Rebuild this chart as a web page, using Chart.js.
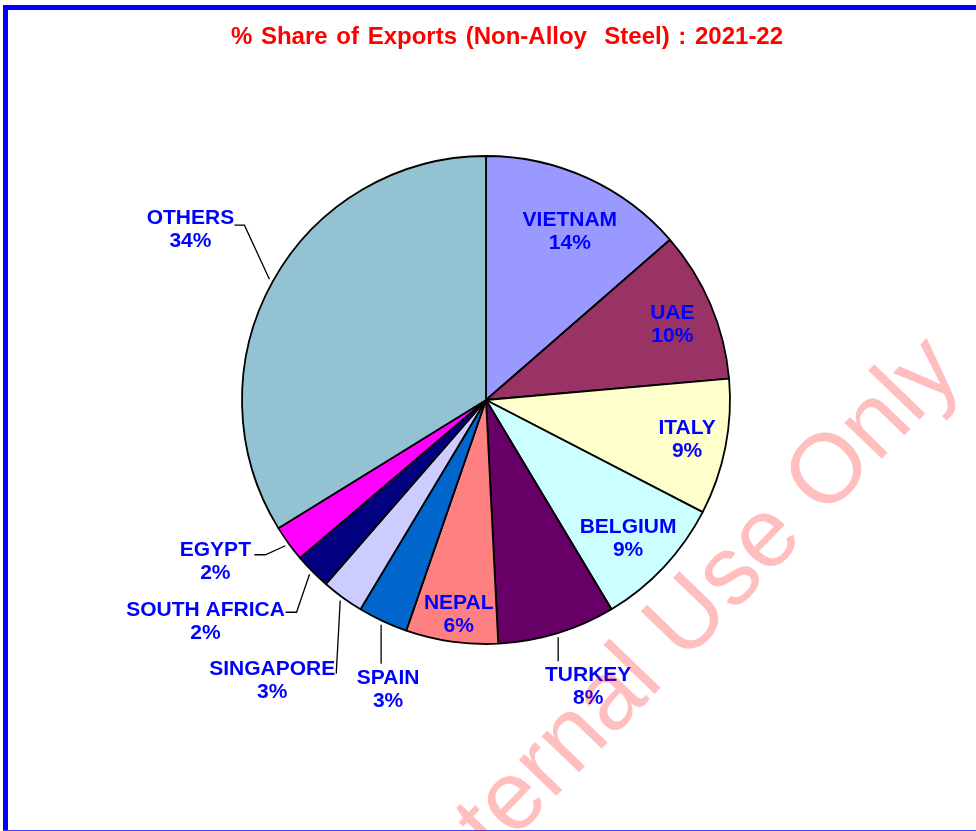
<!DOCTYPE html>
<html>
<head>
<meta charset="utf-8">
<script src="https://cdn.jsdelivr.net/npm/chart.js@4"></script>
<style>
html, body { margin: 0; padding: 0; background: #fff; }
#caixa { width: 976px; height: 831px; position: relative; }
</style>
</head>
<body>
<div id="caixa"><canvas id="grafico"></canvas></div>
<script>
// dados (% share of exports, 2021-22)
var paises = ['VIETNAM', 'UAE', 'ITALY', 'BELGIUM', 'TURKEY', 'NEPAL', 'SPAIN', 'SINGAPORE', 'SOUTH AFRICA', 'EGYPT', 'OTHERS']
var participacao = [13.6, 10.0, 9.0, 8.8, 7.8, 6.1, 3.3, 2.8, 2.4, 2.4, 33.8]
var cores = ['#9999FF', '#993366', '#FFFFCC', '#CCFFFF', '#660066', '#FF8080', '#0066CC', '#CCCCFF', '#000080', '#FF00FF', '#93C2D3']
var titulo = '% Share of Exports (Non-Alloy  Steel) : 2021-22'

// onde cada rotulo fica: k = fracao do raio (dentro), dx/dy + linha guia (fora)
var posRotulos = [
    {k: 0.78, dx: 5, dy: 5}, {k: 0.83, dy: 4}, {k: 0.84}, {k: 0.81, dx: -2, dy: 3},
    {dx: 30, dy: 49, guia: [[0, 24]]},
    {k: 0.88, dx: 3, dy: 2},
    {dx: 7, dy: 65, guia: [[0, 39]]},
    {dx: -68, dy: 80, guia: [[-4, 73]]},
    {dx: -104, dy: 47, guia: [[-13, 38], [-24, 38]]},
    {dx: -70, dy: 16, guia: [[-20, 9], [-31, 9]]},
    {dx: -79, dy: -49, guia: [[-25, -54], [-35, -54]]}
]

var fonte = "'Liberation Sans', Arial, sans-serif"

var moldura = {
    id: 'moldura',
    beforeDraw: function (chart) {
        var c = chart.ctx
        c.save()
        c.fillStyle = '#fff'
        c.fillRect(0, 0, chart.width, chart.height)
        c.fillStyle = '#0000FF'
        c.fillRect(3, 5, 5, chart.height)
        c.fillRect(3, 5, chart.width, 5)
        c.fillStyle = '#4040FF'
        c.fillRect(3, 830, chart.width, 1)
        c.fillStyle = '#FF0000'
        c.font = 'bold 24px ' + fonte
        c.wordSpacing = '2px'
        c.textAlign = 'center'
        c.textBaseline = 'middle'
        c.fillText(titulo, 507, 37)
        c.restore()
    },
    afterDraw: function (chart) {
        var c = chart.ctx
        c.save()
        c.translate(701, 646)
        c.rotate(-46 * Math.PI / 180)
        c.fillStyle = 'rgba(255,0,0,0.25)'
        c.font = '98px ' + fonte
        c.textAlign = 'center'
        c.textBaseline = 'alphabetic'
        c.fillText('Internal Use Only', 0, 0)
        c.restore()
    }
}

var rotulos = {
    id: 'rotulos',
    afterDatasetsDraw: function (chart) {
        var c = chart.ctx
        var meta = chart.getDatasetMeta(0)
        c.save()
        c.font = 'bold 21px ' + fonte
        c.fillStyle = '#0000FF'
        c.textAlign = 'center'
        c.textBaseline = 'middle'
        c.strokeStyle = '#000'
        c.lineWidth = 1.3
        meta.data.forEach(function (arco, i) {
            var p = arco.getProps(['x', 'y', 'startAngle', 'endAngle', 'outerRadius'], true)
            var meio = (p.startAngle + p.endAngle) / 2
            var pos = posRotulos[i]
            var lx, ly
            if (pos.k) {
                lx = p.x + Math.cos(meio) * p.outerRadius * pos.k + (pos.dx || 0)
                ly = p.y + Math.sin(meio) * p.outerRadius * pos.k + (pos.dy || 0)
            } else {
                // linha guia comeca um pouco fora da borda
                var ex = p.x + Math.cos(meio) * (p.outerRadius + 4)
                var ey = p.y + Math.sin(meio) * (p.outerRadius + 4)
                c.beginPath()
                c.moveTo(ex, ey)
                pos.guia.forEach(function (g) { c.lineTo(ex + g[0], ey + g[1]) })
                c.stroke()
                lx = ex + pos.dx
                ly = ey + pos.dy
            }
            var valor = chart.data.datasets[0].data[i]
            c.fillText(chart.data.labels[i], lx, ly - 11.5)
            c.fillText(Math.round(valor) + '%', lx, ly + 11.5)
        })
        c.restore()
    }
}

var ctx = document.getElementById('grafico')

var grafico = new Chart(ctx, {
    type: 'pie',
    data: {
        labels: paises,
        datasets: [{
            data: participacao,
            backgroundColor: cores,
            borderColor: '#000',
            borderWidth: 1.8,
            radius: 244
        }]
    },
    options: {
        responsive: true,
        maintainAspectRatio: false,
        animation: false,
        layout: { padding: { left: 0, right: 4, top: 100, bottom: 131 } },
        plugins: {
            legend: { display: false },
            title: { display: false },
            tooltip: { enabled: false }
        }
    },
    plugins: [moldura, rotulos]
})
</script>
</body>
</html>
